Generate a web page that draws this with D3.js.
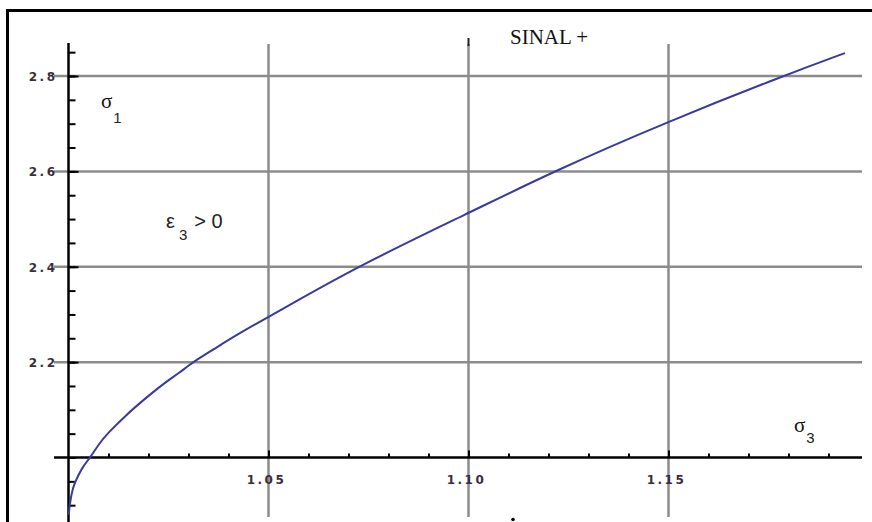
<!DOCTYPE html>
<html>
<head>
<meta charset="utf-8">
<script src="https://cdn.jsdelivr.net/npm/d3@7"></script>
<style>
  body { margin: 0; background: #fff; }
  svg { display: block; }
  .grid line { stroke: #8c8c8c; stroke-width: 2.5; }
  .axis line { stroke: #000; stroke-width: 2.5; }
  .ticks line { stroke: #000; stroke-width: 2; }
  .ticks path { display: none; }
  .tlabel { font-family: "DejaVu Sans", sans-serif; font-weight: bold; font-size: 12px; letter-spacing: 2.5px; fill: #3a2e3c; }
  .serif { font-family: "Liberation Serif", "Times New Roman", serif; fill: #111; }
  .sans { font-family: "Liberation Sans", Arial, sans-serif; fill: #222; }
</style>
</head>
<body>
<svg id="chart" width="872" height="522"></svg>
<script>
// sigma3 (x) vs sigma1 (y)
const sigma3 = [1.0001, 1.0002, 1.00105, 1.0023, 1.00355, 1.00545, 1.0077, 1.0098, 1.0144, 1.01895,
                1.02355, 1.0277, 1.03105, 1.03605, 1.0427, 1.0502, 1.0720, 1.10, 1.1212, 1.15, 1.1786, 1.1941];
const sigma1 = [1.88, 1.8967, 1.9387, 1.9597, 1.9807, 2.0, 2.0298, 2.0508, 2.0892, 2.1221,
                2.1536, 2.1775, 2.1998, 2.2256, 2.2606, 2.2955, 2.4, 2.5125, 2.6, 2.705, 2.8, 2.848];

const xGrid = [1.05, 1.10, 1.15];
const yGrid = [2.2, 2.4, 2.6, 2.8];
const xLabels = ["1.05", "1.10", "1.15"];
const yLabels = ["2.2", "2.4", "2.6", "2.8"];
const xMinor = d3.range(1, 20).map(i => 1 + i * 0.01);
const yMinor = d3.range(0, 20).map(i => 1.9 + i * 0.05);

const svg = d3.select('#chart');

var x = d3.scaleLinear().domain([1, 1.2]).range([68.5, 868.5]);
var y = d3.scaleLinear().domain([2, 2.8]).range([457.5, 76]);

// frame (only top and left edges show)
svg.append('line').attr('x1', 6).attr('x2', 872).attr('y1', 10.5).attr('y2', 10.5)
  .style('stroke', '#000').style('stroke-width', 3);
svg.append('line').attr('x1', 7.5).attr('x2', 7.5).attr('y1', 9).attr('y2', 522)
  .style('stroke', '#000').style('stroke-width', 3);

/* GRID */
var grid = svg.append('g').attr('class', 'grid');
grid.selectAll('line.v')
  .data(xGrid)
  .enter()
  .append('line').attr('class', 'v')
  .attr('x1', d => x(d)).attr('x2', d => x(d))
  .attr('y1', 44).attr('y2', 517);
grid.selectAll('line.h')
  .data(yGrid)
  .enter()
  .append('line').attr('class', 'h')
  .attr('x1', 54).attr('x2', 862)
  .attr('y1', d => y(d)).attr('y2', d => y(d));

/* AXES */
var axes = svg.append('g').attr('class', 'axis');
axes.append('line').attr('x1', x(1)).attr('x2', x(1)).attr('y1', 43).attr('y2', 522);
axes.append('line').attr('x1', 54).attr('x2', 862).attr('y1', y(2)).attr('y2', y(2));

// y ticks point right, x ticks point up
svg.append('g').attr('class', 'ticks')
  .attr('transform', 'translate(' + x(1) + ',0)')
  .call(d3.axisRight(y).tickValues(yMinor).tickSize(7).tickFormat(''));
svg.append('g').attr('class', 'ticks')
  .attr('transform', 'translate(' + x(1) + ',0)')
  .call(d3.axisRight(y).tickValues(yGrid).tickSize(10).tickFormat(''));
svg.append('g').attr('class', 'ticks')
  .attr('transform', 'translate(0,' + y(2) + ')')
  .call(d3.axisTop(x).tickValues(xMinor).tickSize(4).tickFormat(''));
svg.append('g').attr('class', 'ticks')
  .attr('transform', 'translate(0,' + y(2) + ')')
  .call(d3.axisTop(x).tickValues(xGrid).tickSize(7).tickFormat(''));

svg.selectAll('text.ylab')
  .data(yGrid)
  .enter()
  .append('text').attr('class', 'tlabel ylab')
  .attr('x', 57.5)
  .attr('y', d => y(d) + 5)
  .attr('text-anchor', 'end')
  .text((d, i) => yLabels[i]);

svg.selectAll('text.xlab')
  .data(xGrid)
  .enter()
  .append('text').attr('class', 'tlabel xlab')
  .attr('x', d => x(d) - 2)
  .attr('y', 484)
  .attr('text-anchor', 'middle')
  .text((d, i) => xLabels[i]);

/* CURVE */
var line = d3.line()
  .x(d => x(d[0]))
  .y(d => y(d[1]))
  .curve(d3.curveBasis);

svg.append('path')
  .datum(d3.zip(sigma3, sigma1))
  .attr('d', line)
  .style('fill', 'none')
  .style('stroke', '#3a3a9e')
  .style('stroke-width', 2);

/* ANNOTATIONS */
svg.append('text').attr('class', 'serif')
  .attr('x', 510).attr('y', 43.5)
  .style('font-size', '21px')
  .text('SINAL +');

// little marks left over in the picture
svg.append('line').attr('x1', x(1.10)).attr('x2', x(1.10)).attr('y1', 38).attr('y2', 46)
  .style('stroke', '#222').style('stroke-width', 2);
svg.append('circle').attr('cx', 513).attr('cy', 519.5).attr('r', 1.8).style('fill', '#000');

var s1 = svg.append('text').attr('class', 'serif').attr('x', 101).attr('y', 108);
s1.append('tspan').style('font-size', '21px').text('σ');
s1.append('tspan').attr('class', 'sans').attr('dx', 1).attr('dy', 15).style('font-size', '15px').text('1');

var e3 = svg.append('text').attr('class', 'sans').attr('x', 166).attr('y', 228);
e3.append('tspan').style('font-size', '20px').text('ε');
e3.append('tspan').attr('dx', 4).attr('dy', 12).style('font-size', '15px').text('3');
e3.append('tspan').attr('dx', 7).attr('dy', -12).style('font-size', '20px').text('> 0');

var s3 = svg.append('text').attr('class', 'serif').attr('x', 794).attr('y', 432);
s3.append('tspan').style('font-size', '21px').text('σ');
s3.append('tspan').attr('class', 'sans').attr('dx', 1).attr('dy', 11).style('font-size', '15px').text('3');
</script>
</body>
</html>
